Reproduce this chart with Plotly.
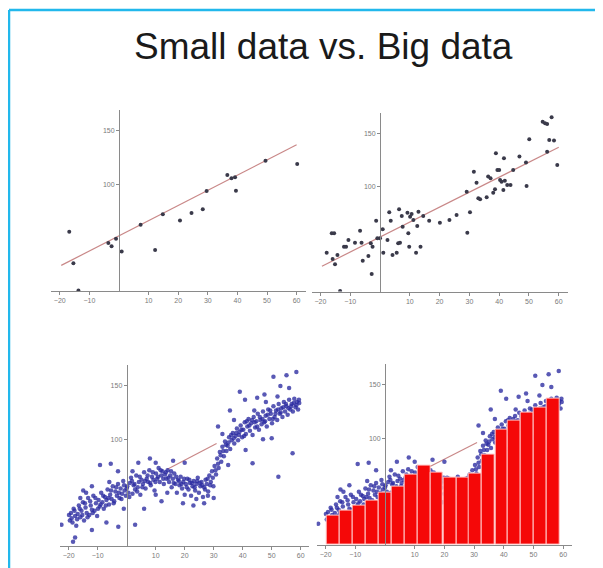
import plotly.graph_objects as go

TITLE = "Small data vs. Big data"

# regression line (same in all panels)
LINE_X = [-19.5, 60]
LINE_Y = [24, 137]
# visible part of the line in the big-data panels
BIG_LINE_X = [14, 31]
BIG_LINE_Y = [72, 96]

# panel 1: small data
SMALL_X = [-16.8, -15.4, -13.7, -3.6, -2.5, -1.0, 0.9, 7.3, 12.2, 14.8, 20.6, 24.5, 28.3,
           29.6, 36.6, 38.0, 39.2, 39.5, 49.5, 60.2]
SMALL_Y = [55.6, 26, 0.5, 45, 42, 49, 37, 62, 38.4, 72, 66, 73, 76.5,
           93.7, 108.7, 105.6, 106.5, 94, 122, 119]

# panel 2: more data
MID_X = [-17.9, -16.2, -15.4, -15.9, -15.1, -14.3, -12.1, -11.4, -10.6, -8.4, -6.7, -6.2, -5.8,
         -3.9, -3.1, -2.8, -2.5, -1.3, -0.9, 0.0, 0.9, 1.1, 2.5, 3.1, 3.6, 4.2, 5.6, 6.1, 6.4,
         6.7, 7.3, 7.6, 9.2, 9.5, 9.8, 10.1, 10.6, 11.2, 12.1, 12.5, 12.9, 13.6, 14.5, 16.5,
         20.1, 23.3, 25.7, 29.1, 29.3, 30.2, 31.5, 32.4, 33.0, 33.6, 35.8, 36.3, 37.1, 38.0,
         38.6, 38.9, 39.4, 40.0, 40.3, 40.8, 41.4, 41.6, 41.9, 42.7, 43.8, 44.7, 46.8, 49.0,
         49.2, 50.1, 54.6, 55.4, 56.1, 56.8, 57.6, 58.4, 56.1, 59.5, -13.4]
MID_Y = [36.9, 55.3, 55.3, 30.9, 25.8, 34.7, 42.6, 42.6, 49, 46.4, 57.8, 46.4, 29.3,
         33.7, 45.8, 16.7, 42.6, 67.3, 50.5, 50.5, 59.1, 36.9, 48.9, 75.2, 67.3, 34.7, 36.9, 45.8, 78.1,
         46.4, 71.7, 61.6, 74.9, 55.3, 42.6, 71.1, 73.6, 67.9, 36.9, 62.2, 75.8, 42.6, 71.7, 67.3,
         65.4, 67.9, 72.7, 94.8, 55.9, 75.2, 113.8, 103.4, 88.5, 87.6, 89.5, 109.1, 107.5, 93.9,
         97.1, 131.2, 115.4, 115.4, 105.9, 104.3, 96.4, 126.5, 105.3, 101.2, 101.2, 115.4, 128.1, 122.4,
         100.2, 144.5, 161.3, 159.7, 159.1, 143.9, 165.4, 143.3, 132.8, 120.2, 0.5]

# panels 3 and 4: big data
BIG_X = [
    -19.6, -19.2, -18.7, -18.3, -17.8, -17.4, -16.9, -16.5, -16.0, -15.6, -15.1, -14.7, -14.2,
    -13.8, -13.3, -12.9, -12.4, -12.0, -11.5, -11.1, -10.6, -10.2, -9.7, -9.3, -8.8, -8.4, -7.9,
    -7.5, -7.0, -6.6, -6.1, -5.7, -5.2, -4.8, -4.3, -3.9, -3.4, -3.0, -2.5, -2.1, -1.6, -1.2,
    -0.7, -0.3, 0.2, 0.6,
    1.1, 1.5, 2.0, 2.4, 2.9, 3.3, 3.8, 4.2, 4.7, 5.1, 5.6, 6.0, 6.5, 6.9, 7.4, 7.8, 8.3, 8.7,
    9.2, 9.6, 10.1, 10.5, 11.0, 11.4, 11.9, 12.3, 12.8, 13.2, 13.7,
    14.1, 14.6, 15.0, 15.5, 15.9, 16.4, 16.8, 17.3, 17.7, 18.2, 18.6, 19.1, 19.5, 20.0, 20.4,
    20.9, 21.3, 21.8, 22.2, 22.7, 23.1, 23.6, 24.0, 24.5, 24.9, 25.4, 25.8, 26.3, 26.7, 27.2,
    27.6, 28.1, 28.5, 29.0, 29.4, 29.9,
    30.3, 30.8, 31.2, 31.7, 32.1, 32.6, 33.0, 33.5, 33.9, 34.4, 34.8, 35.3, 35.7, 36.2, 36.6,
    37.1, 37.5, 38.0,
    38.4, 38.9, 39.3, 39.8, 40.2, 40.7, 41.1, 41.6, 42.0, 42.5, 42.9, 43.4, 43.8, 44.3, 44.7,
    45.2, 45.6, 46.1, 46.5, 47.0, 47.4, 47.9, 48.3, 48.8, 49.2, 49.7, 50.1, 50.6, 51.0, 51.5,
    51.9, 52.4, 52.8, 53.3, 53.7, 54.2, 54.6, 55.1, 55.5, 56.0, 56.4, 56.9, 57.3, 57.8, 58.2,
    58.7, 59.1, 59.5,
    -19.9, -19.0, -18.0, -17.1, -16.2, -15.3, -14.4, -13.5, -12.6, -11.7, -10.8, -9.9, -9.0,
    -8.1, -7.2, -6.3, -5.4, -4.5, -3.6, -2.7, -1.8, -0.9, 0.0, 0.9,
    1.8, 2.7, 3.6, 4.5, 5.4, 6.3, 7.2, 8.1, 9.0, 9.9, 10.8, 11.7, 12.6, 13.5,
    14.4, 15.3, 16.2, 17.1, 18.0, 18.9, 19.8, 20.7, 21.6, 22.5, 23.4, 24.3, 25.2, 26.1, 27.0,
    27.9, 28.8, 29.7,
    30.6, 31.5, 32.4, 33.3, 34.2, 35.1, 36.0, 36.9, 37.8,
    38.7, 39.6, 40.5, 41.4, 42.3, 43.2, 44.1, 45.0, 45.9, 46.8, 47.7, 48.6, 49.5, 50.4, 51.3,
    52.2, 53.1, 54.0, 54.9, 55.8, 56.7, 57.6, 58.5, 59.4,
    -22.5, -18.5, -17.8, -15.0, -12.0, -9.2, -5.5, -2.9, -7.0, -12.0, 2.9, 8.0, 4.0, -3.0,
    6.0, 12.0, 19.4, 26.7, 23.0, 31.5, 35.6, 39.0, 43.4, 50.0, 52.3, 57.2, 50.6, 55.1, 58.5,
    40.8, 45.0, 47.5, 53.0, 35.0, 41.0, 47.0, 30.0, 16.0, 20.0, -16.0, -1.0, 10.0,
    44.0, 48.0, 52.0, 56.0, 37.0, 33.0, -14.0, -6.0, 2.0, 10.0, 14.0, 24.0, 28.0]
BIG_Y = [
    24, 31, 22, 35, 28, 19, 30, 38, 27, 33, 41, 24, 36,
    31, 45, 29, 38, 34, 47, 33, 40, 28, 43, 37, 50, 41, 35,
    46, 43, 53, 39, 48, 44, 56, 42, 51, 47, 58, 45, 54, 49, 61,
    52, 47, 56, 50,
    59, 64, 49, 57, 53, 66, 55, 60, 48, 62, 58, 69, 54, 63, 60, 71, 57, 65,
    62, 52, 68, 63, 73, 60, 66, 70, 58, 67, 63,
    71, 60, 66, 55, 63, 68, 58, 50, 62, 57, 65, 54, 60, 48, 58,
    63, 53, 59, 47, 56, 61, 52, 58, 64, 50, 56, 60, 46, 55, 62,
    58, 51, 66, 60, 70, 56,
    75, 67, 82, 73, 88, 79, 93, 84, 98, 89, 94, 102, 91, 99, 106,
    96, 103, 110,
    99, 107, 113, 102, 109, 116, 105, 112, 119, 108, 115, 104, 121, 111, 117,
    124, 109, 118, 114, 126, 116, 122, 112, 128, 119, 124, 115, 131, 121, 127,
    118, 133, 124, 129, 121, 135, 126, 131, 123, 137, 128, 133, 126, 138, 130,
    135, 128, 134,
    29, 26, 33, 25, 35, 29, 40, 27, 42, 31, 45, 35, 39,
    47, 38, 45, 52, 40, 55, 50, 44, 57, 54, 46,
    61, 58, 51, 65, 55, 61, 66, 59, 69, 60, 65, 71, 63, 69,
    64, 70, 59, 65, 61, 58, 63, 55, 62, 59, 55, 61, 59, 57, 53,
    63, 57, 64,
    71, 77, 85, 89, 95, 97, 104, 101, 106,
    104, 109, 103, 117, 113, 118, 116, 112, 121, 119, 117, 123, 127, 119, 124,
    128, 125, 130, 133, 129, 131, 134, 132, 137,
    20, 4, 8, 52, 56, 76, 77, 18, 22, 15, 20, 82, 78, 70,
    35, 42, 40, 40, 38, 112, 127, 144.6, 77.5, 101, 65, 87, 158.7, 160, 163,
    137, 139, 142, 150, 76, 90, 100, 45, 80, 78, 45, 35, 48,
    127, 135, 140, 148, 118, 105, 50, 60, 70, 78, 50, 44, 47]

# panel 4: bars (bin centres and heights)
BAR_X = [-17.4, -13.1, -8.7, -4.4, 0.0, 4.4, 8.7, 13.1, 17.4, 21.8, 26.2, 30.5, 34.9,
         39.3, 43.6, 48.0, 52.4, 56.7]
BAR_Y = [28, 32.5, 37, 42, 49, 55, 66, 74, 68, 63, 63, 67, 85, 108, 117, 124, 129, 137]
BAR_W = 4.36

XTICKS = [-20, -10, 10, 20, 30, 40, 50, 60]
YTICKS = [100, 150]
XRANGE = [-23, 63]
YRANGE = [0, 170]

LINE_COL = "#c98888"
DOT_COL = "#3a3a4a"
BIG_COL = "rgba(42,42,160,0.78)"

fig = go.Figure()

fig.add_trace(go.Scatter(x=LINE_X, y=LINE_Y, mode="lines", line=dict(color=LINE_COL, width=1.2),
                         xaxis="x", yaxis="y"))
fig.add_trace(go.Scatter(x=SMALL_X, y=SMALL_Y, mode="markers", marker=dict(color=DOT_COL, size=4),
                         xaxis="x", yaxis="y"))

fig.add_trace(go.Scatter(x=LINE_X, y=LINE_Y, mode="lines", line=dict(color=LINE_COL, width=1.2),
                         xaxis="x2", yaxis="y2"))
fig.add_trace(go.Scatter(x=MID_X, y=MID_Y, mode="markers", marker=dict(color=DOT_COL, size=4),
                         xaxis="x2", yaxis="y2"))

fig.add_trace(go.Scatter(x=BIG_LINE_X, y=BIG_LINE_Y, mode="lines", line=dict(color=LINE_COL, width=1.2),
                         xaxis="x3", yaxis="y3"))
fig.add_trace(go.Scatter(x=BIG_X, y=BIG_Y, mode="markers", marker=dict(color=BIG_COL, size=4.5),
                         xaxis="x3", yaxis="y3"))

fig.add_trace(go.Scatter(x=BIG_LINE_X, y=BIG_LINE_Y, mode="lines", line=dict(color=LINE_COL, width=1.2),
                         xaxis="x4", yaxis="y4"))
fig.add_trace(go.Scatter(x=BIG_X, y=BIG_Y, mode="markers", marker=dict(color=BIG_COL, size=4.5),
                         xaxis="x4", yaxis="y4"))
fig.add_trace(go.Bar(x=BAR_X, y=BAR_Y, width=BAR_W,
                     marker=dict(color="#f50808", line=dict(color="#ffc8c8", width=1)),
                     xaxis="x5", yaxis="y5"))

# the page body has an 8px margin, so the figure occupies screen pixels 8..603 x 8..568
W, H = 595, 560
OX, OY = 8, 8


def px(x):
    return (x - OX) / W


def py(y):
    return (H + OY - y) / H


# screen pixels: (x at -23, x at 63, x of 0) and (y of 0, y of 170)
panels = [
    (50.9, 305.5, 119.0, 291.0, 109.6),
    (311.5, 567.7, 380.0, 291.5, 112.5),
    (60.0, 309.4, 126.7, 546.0, 364.6),
    (316.7, 572.1, 385.0, 545.0, 363.6),
]
tickfont = dict(family="Liberation Sans, Arial", size=7, color="#7a7a7a")
axes = {}
for i, (x0, x1, xz, y0, y1) in enumerate(panels, start=1):
    s = "" if i == 1 else str(i)
    axes["xaxis" + s] = dict(domain=[px(x0), px(x1)], range=XRANGE, anchor="y" + s,
                             showline=True, linecolor="#8a8a8a", linewidth=1,
                             ticks="outside", ticklen=3, tickcolor="#8a8a8a",
                             tickvals=XTICKS, tickfont=tickfont, showgrid=False, zeroline=False,
                             fixedrange=True)
    axes["yaxis" + s] = dict(domain=[py(y0), py(y1)], range=YRANGE, anchor="free",
                             position=px(xz), showline=True, linecolor="#8a8a8a", linewidth=1,
                             ticks="outside", ticklen=3, tickcolor="#8a8a8a",
                             tickvals=YTICKS, tickfont=tickfont, showgrid=False, zeroline=False,
                             fixedrange=True)
axes["xaxis5"] = dict(overlaying="x4", range=XRANGE, anchor="y5", visible=False)
axes["yaxis5"] = dict(overlaying="y4", range=YRANGE, anchor="x5", visible=False)

fig.update_layout(
    width=W, height=H,
    margin=dict(l=0, r=0, t=0, b=0),
    paper_bgcolor="white", plot_bgcolor="rgba(0,0,0,0)",
    showlegend=False,
    bargap=0,
    **axes,
)

fig.add_annotation(text=TITLE, xref="paper", yref="paper", x=px(323), y=py(47),
                   xanchor="center", yanchor="middle", showarrow=False,
                   font=dict(family="Liberation Sans, Arial", size=37, color="#1a1a1a"))

frame = "#22b8ec"
fig.add_shape(type="line", xref="paper", yref="paper", x0=px(9), x1=1.0, y0=py(10), y1=py(10),
              line=dict(color=frame, width=2.5))
fig.add_shape(type="line", xref="paper", yref="paper", x0=px(9), x1=px(9), y0=0, y1=py(10),
              line=dict(color=frame, width=2.5))

fig.write_html("out.html")
